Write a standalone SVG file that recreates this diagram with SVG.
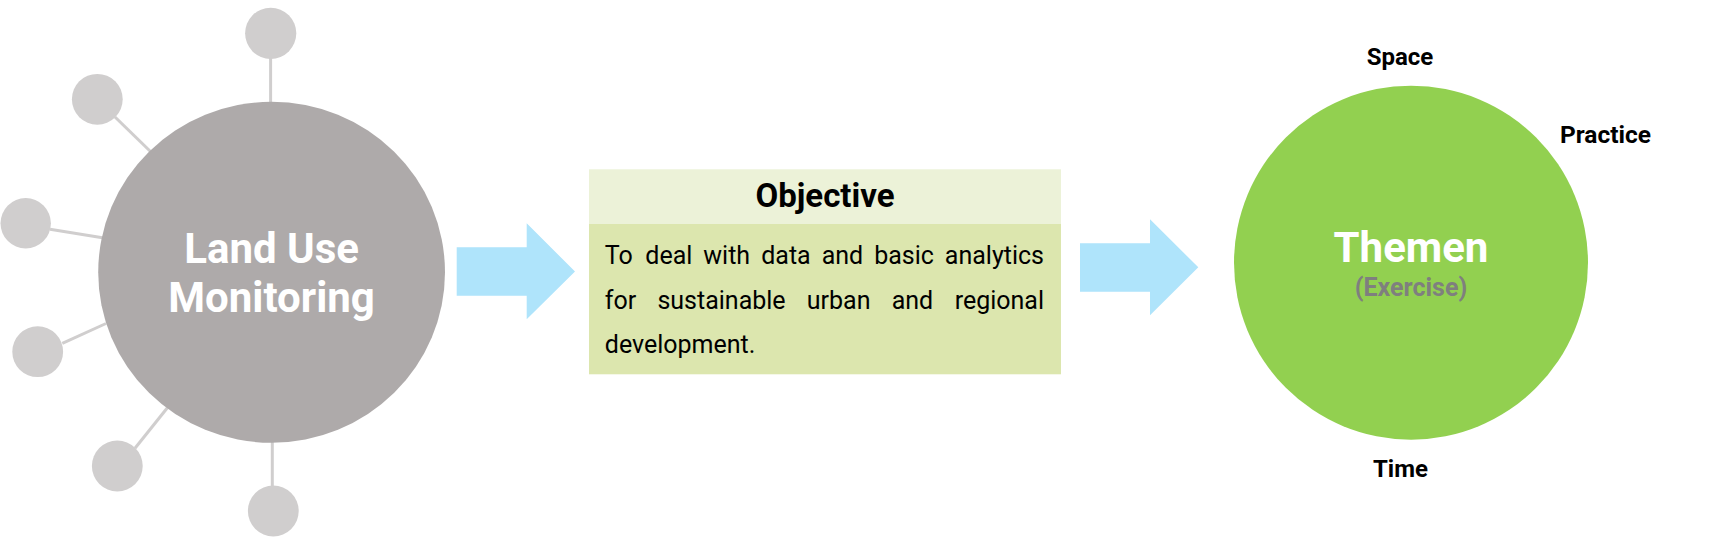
<svg xmlns="http://www.w3.org/2000/svg" width="1711" height="538" viewBox="0 0 1711 538">
<style>
.bold{font-family:Roboto,"Liberation Sans",sans-serif;font-weight:bold}
.reg{font-family:Roboto,"Liberation Sans",sans-serif;font-weight:normal}
.sat{fill:#d0cece}
.conn line{stroke:#d0cece;stroke-width:3}
.arrow{fill:#afe4fb}
</style>
<rect width="1711" height="538" fill="#ffffff"/>
<g id="connectors" class="conn">
<line x1="270.6" y1="58" x2="270.6" y2="104"/>
<line x1="115" y1="117" x2="151" y2="152"/>
<line x1="50" y1="229.3" x2="104" y2="238"/>
<line x1="62.3" y1="343.3" x2="106" y2="323.5"/>
<line x1="135" y1="448.3" x2="168" y2="407"/>
<line x1="272.3" y1="440" x2="272.3" y2="487"/>
<path class="arrow" d="M456.7,247.3 H526.7 V223.3 L575,271.5 L526.7,319.3 V295.7 H456.7 Z"/>
<path class="arrow" d="M1080,243.3 H1150 V219.3 L1198.3,267.3 L1150,315.3 V291.7 H1080 Z"/>
</g>
<g id="sat-top"><circle class="sat" cx="270.7" cy="33.3" r="25.6"/></g>
<g id="sat-upper-left"><circle class="sat" cx="97.3" cy="99.3" r="25.4"/></g>
<g id="sat-left"><circle class="sat" cx="25.7" cy="223.3" r="25.2"/></g>
<g id="sat-lower-left"><circle class="sat" cx="37.7" cy="351.7" r="25.4"/></g>
<g id="sat-lower"><circle class="sat" cx="117.3" cy="466" r="25.4"/></g>
<g id="sat-bottom"><circle class="sat" cx="273.3" cy="511" r="25.4"/></g>
<g id="land-use">
<ellipse cx="271.6" cy="272.3" rx="173.4" ry="170.5" fill="#aeaaaa"/>
<text class="bold" x="271.6" y="262.7" font-size="42" fill="#ffffff" text-anchor="middle">Land Use</text>
<text class="bold" x="271.6" y="312" font-size="42" fill="#ffffff" text-anchor="middle">Monitoring</text>
</g>
<g id="objective">
<rect x="589" y="169.3" width="472" height="54.7" fill="#ecf2d8"/>
<rect x="589" y="224" width="472" height="150.3" fill="#dce6ae"/>
<text class="bold" x="825" y="207" font-size="33" fill="#000000" text-anchor="middle">Objective</text>
<text class="reg" font-size="25" fill="#000000"><tspan x="604.8" y="264">To</tspan><tspan x="645.3" y="264">deal</tspan><tspan x="703.3" y="264">with</tspan><tspan x="761.2" y="264">data</tspan><tspan x="821.7" y="264">and</tspan><tspan x="874.2" y="264">basic</tspan><tspan x="1044" y="264" text-anchor="end">analytics</tspan></text>
<text class="reg" font-size="25" fill="#000000"><tspan x="604.8" y="309.3">for</tspan><tspan x="657.4" y="309.3">sustainable</tspan><tspan x="806.8" y="309.3">urban</tspan><tspan x="891.7" y="309.3">and</tspan><tspan x="1044" y="309.3" text-anchor="end">regional</tspan></text>
<text class="reg" x="604.8" y="353.3" font-size="25" fill="#000000">development.</text>
</g>
<g id="themen">
<circle cx="1411" cy="262.7" r="177" fill="#92d050"/>
<text class="bold" x="1411" y="262.3" font-size="42" fill="#ffffff" text-anchor="middle">Themen</text>
<text class="bold" x="1411" y="296" font-size="25" fill="#7f7f7f" text-anchor="middle">(Exercise)</text>
</g>
<g id="label-space"><text class="bold" x="1400" y="65" font-size="24" fill="#000000" text-anchor="middle">Space</text></g>
<g id="label-practice"><text class="bold" x="1560" y="142.7" font-size="24.5" fill="#000000">Practice</text></g>
<g id="label-time"><text class="bold" x="1400.5" y="476.7" font-size="24" fill="#000000" text-anchor="middle">Time</text></g>
</svg>
